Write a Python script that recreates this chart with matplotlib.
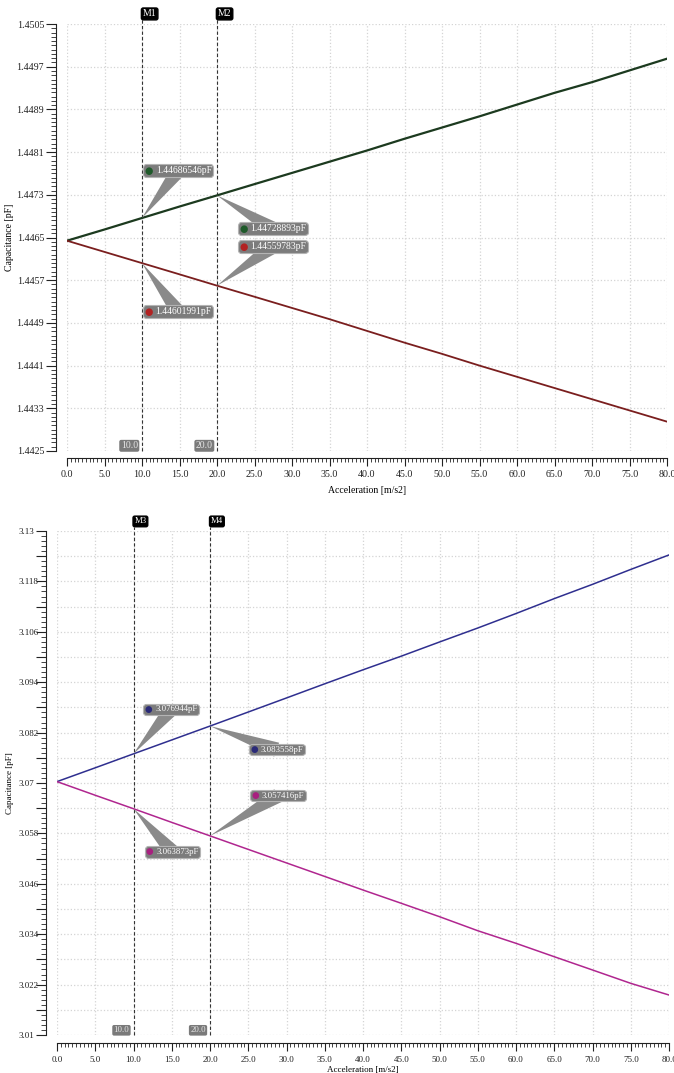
import matplotlib
matplotlib.use('Agg')
import matplotlib.pyplot as plt
from matplotlib.ticker import FixedLocator, FixedFormatter
from matplotlib.offsetbox import TextArea, HPacker, AnnotationBbox

plt.rcParams['font.family'] = ['Liberation Serif', 'DejaVu Serif']

# acceleration samples [m/s2]
accel = [0, 5, 10, 15, 20, 25, 30, 35, 40, 45, 50, 55, 60, 65, 70, 75, 80]

# top chart: capacitance [pF]
cap_top_up = [1.44644, 1.44665, 1.44686546, 1.44708, 1.44728893, 1.44750, 1.44771,
              1.44792, 1.44813, 1.44835, 1.44856, 1.44877, 1.44899, 1.44921,
              1.44941, 1.44963, 1.44985]
cap_top_down = [1.44644, 1.44623, 1.44601991, 1.44581, 1.44559783, 1.44539, 1.44518,
                1.44497, 1.44475, 1.44453, 1.44432, 1.44410, 1.44389, 1.44368,
                1.44347, 1.44326, 1.44305]

# bottom chart: capacitance [pF]
cap_bot_up = [3.07033, 3.07362, 3.076944, 3.08025, 3.083558, 3.08690, 3.09025,
              3.09362, 3.09695, 3.10020, 3.10357, 3.10690, 3.11035, 3.11390,
              3.11730, 3.12085, 3.12430]
cap_bot_down = [3.07033, 3.06708, 3.063873, 3.06062, 3.057416, 3.05419, 3.05097,
                3.04775, 3.04452, 3.04136, 3.03817, 3.03483, 3.03183, 3.02864,
                3.02548, 3.02230, 3.01952]

markers = [10.0, 20.0]
top_names = ['M1', 'M2']
bot_names = ['M3', 'M4']

top_ylim = (1.4425, 1.4505)
top_ystep = 0.0008
bot_ylim = (3.01, 3.13)
bot_ystep = 0.012

W, H = 674, 1073
fig = plt.figure(figsize=(W / 100, H / 100), dpi=100)
ax1 = fig.add_axes([67 / W, 1 - 451 / H, 600 / W, 427 / H])
ax2 = fig.add_axes([57 / W, 1 - 1035 / H, 612 / W, 504 / H])


def callout(ax, x, y, text, dot_color, dx, dy, fs):
    dot = TextArea('\u25cf', textprops=dict(color=dot_color, fontsize=fs, family='DejaVu Sans'))
    lab = TextArea(text, textprops=dict(color='white', fontsize=fs))
    box = HPacker(children=[dot, lab], align='center', pad=0, sep=2)
    ab = AnnotationBbox(box, (x, y), xybox=(dx, dy), xycoords='data',
                        boxcoords='offset points', box_alignment=(0.5, 0.5),
                        frameon=True, pad=0.15, fontsize=fs,
                        bboxprops=dict(boxstyle='round,pad=0.15,rounding_size=0.35',
                                       fc='#7c7c7c', ec='#b4b4b4', lw=0.8),
                        arrowprops=dict(arrowstyle='wedge,tail_width=0.85,shrink_factor=0.5',
                                        fc='#8a8a8a', ec='none', mutation_scale=9,
                                        patchA=None, shrinkA=0, shrinkB=0))
    ab.set_zorder(6)
    ax.add_artist(ab)


def style_axes(ax, ylim, ystep, fs, yfmt, grid_sub, yspine_off, xspine_off):
    ax.set_xlim(0, 80)
    ax.set_ylim(*ylim)
    for s in ['top', 'right']:
        ax.spines[s].set_visible(False)
    ax.spines['left'].set_position(('outward', yspine_off))
    ax.spines['bottom'].set_position(('outward', xspine_off))
    for s in ['left', 'bottom']:
        ax.spines[s].set_color('#222222')
        ax.spines[s].set_linewidth(0.8)

    xt = [5 * i for i in range(17)]
    ax.xaxis.set_major_locator(FixedLocator(xt))
    ax.xaxis.set_major_formatter(FixedFormatter(['%.1f' % v for v in xt]))
    ax.xaxis.set_minor_locator(FixedLocator([0.5 * i for i in range(161)]))

    n = int(round((ylim[1] - ylim[0]) / ystep))
    sub = grid_sub
    yt = [ylim[0] + ystep / sub * i for i in range(n * sub + 1)]
    labels = [yfmt(ylim[0] + ystep * (i // sub)) if i % sub == 0 else '' for i in range(n * sub + 1)]
    ax.yaxis.set_major_locator(FixedLocator(yt))
    ax.yaxis.set_major_formatter(FixedFormatter(labels))
    ax.yaxis.set_minor_locator(FixedLocator([ylim[0] + ystep / 10 * i for i in range(n * 10 + 1)]))

    ax.tick_params(axis='both', which='major', direction='out', length=7, width=0.8,
                   color='#222222', labelsize=fs, labelcolor='#222222')
    ax.tick_params(axis='both', which='minor', direction='out', length=3.5, width=0.6,
                   color='#222222')
    ax.tick_params(axis='x', which='major', length=6, pad=3)
    ax.tick_params(axis='x', which='minor', length=3)
    ax.grid(True, which='major', color='#d4d4d4', lw=0.9, ls=':')
    ax.set_axisbelow(True)


# ---- top chart ----
style_axes(ax1, top_ylim, top_ystep, 7.2, lambda v: '%.4f' % v, 1, 8, 5)
ax1.tick_params(axis='y', which='major', pad=1.5)
ax1.plot(accel, cap_top_up, color='#1c3a1f', lw=1.6, zorder=4)
ax1.plot(accel, cap_top_down, color='#7a1e1e', lw=1.3, zorder=4)
ax1.set_ylabel('Capacitance [pF]', fontsize=7)
ax1.yaxis.set_label_coords(-0.089, 0.5)
ax1.set_xlabel('Acceleration [m/s2]', fontsize=7)
ax1.xaxis.set_label_coords(0.5, -0.082)

# ---- bottom chart ----
style_axes(ax2, bot_ylim, bot_ystep, 6.5, lambda v: '%g' % round(v, 3), 2, 8, 6)
ax2.tick_params(axis='y', which='major', pad=12.5)
for t in ax2.get_yticklabels():
    t.set_horizontalalignment('left')
ax2.plot(accel, cap_bot_up, color='#2f2f8f', lw=1.1, zorder=4)
ax2.plot(accel, cap_bot_down, color='#b0268f', lw=1.1, zorder=4)
ax2.set_ylabel('Capacitance [pF]', fontsize=6.5)
ax2.yaxis.set_label_coords(-0.071, 0.5)
ax2.set_xlabel('Acceleration [m/s2]', fontsize=6.5)
ax2.xaxis.set_label_coords(0.5, -0.062)


def draw_markers(ax, names, fs, ext):
    for m, name in zip(markers, names):
        ax.axvline(m, ymin=0, ymax=1 + ext, color='#333333', lw=0.8, ls=(0, (3, 2)),
                   clip_on=False, zorder=3)
        ax.annotate(name, xy=(m, 1), xycoords=('data', 'axes fraction'),
                    xytext=(0.6, 4), textcoords='offset points', ha='left', va='bottom',
                    color='white', fontsize=fs,
                    bbox=dict(boxstyle='round,pad=0.15,rounding_size=0.2', fc='black', ec='black'))
        ax.annotate('%.1f' % m, xy=(m, 0), xycoords=('data', 'axes fraction'),
                    xytext=(-3, 0.5), textcoords='offset points', ha='right', va='bottom',
                    color='#e6e6e6', fontsize=fs,
                    bbox=dict(boxstyle='round,pad=0.15,rounding_size=0.2', fc='#7a7a7a', ec='none'))


draw_markers(ax1, top_names, 7, 0.012)
draw_markers(ax2, bot_names, 6.3, 0.008)

# readouts at the markers
i1, i2 = accel.index(10), accel.index(20)
callout(ax1, 10, cap_top_up[i1], '%.8fpF' % cap_top_up[i1], '#1f5a2a', 26, 34, 6.9)
callout(ax1, 20, cap_top_up[i2], '%.8fpF' % cap_top_up[i2], '#1f5a2a', 40, -24, 6.9)
callout(ax1, 20, cap_top_down[i2], '%.8fpF' % cap_top_down[i2], '#b22222', 40, 28, 6.9)
callout(ax1, 10, cap_top_down[i1], '%.8fpF' % cap_top_down[i1], '#b22222', 26, -35, 6.9)

callout(ax2, 10, cap_bot_up[i1], '%.6fpF' % cap_bot_up[i1], '#2a2a78', 27, 32, 6.3)
callout(ax2, 20, cap_bot_up[i2], '%.6fpF' % cap_bot_up[i2], '#2a2a78', 48, -17, 6.3)
callout(ax2, 20, cap_bot_down[i2], '%.6fpF' % cap_bot_down[i2], '#a8207f', 49, 29, 6.3)
callout(ax2, 10, cap_bot_down[i1], '%.6fpF' % cap_bot_down[i1], '#a8207f', 28, -31, 6.3)

fig.savefig('out.png', dpi=100)
